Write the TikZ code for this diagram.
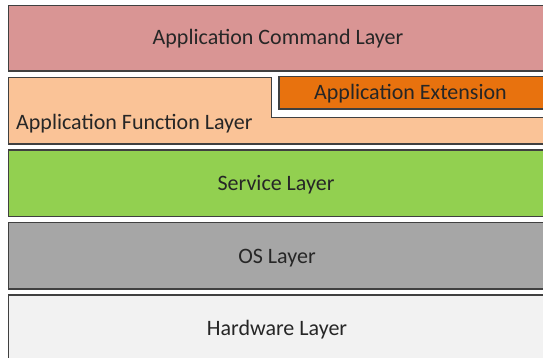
\documentclass[tikz,border=0pt]{standalone}
\usepackage{fontspec}
\setmainfont{Carlito}
\definecolor{cmdfill}{HTML}{D99594}
\definecolor{funfill}{HTML}{FAC397}
\definecolor{extfill}{HTML}{E8720E}
\definecolor{svcfill}{HTML}{92D050}
\definecolor{osfill}{HTML}{A6A6A6}
\definecolor{hwfill}{HTML}{F2F2F2}
\definecolor{edge}{HTML}{404040}
\definecolor{txt}{HTML}{262626}
\begin{document}
\begin{tikzpicture}[x=1pt,y=-1pt,
  layer/.style={draw=edge,line width=1.3pt},
  lbl/.style={text=txt,font=\fontsize{22}{26}\selectfont,inner sep=0pt,anchor=base}]
\useasboundingbox (0,0) rectangle (543,358);
\clip (0,0) rectangle (543,358);
\fill[white] (0,0) rectangle (543,358);
% Command layer
\draw[layer,fill=cmdfill] (8.3,5.7) rectangle (560,71);
\node[lbl] (cmd) at (278,45) {Application Command Layer};
% Function layer
\draw[layer,fill=funfill] (8.3,77.7) -- (271.7,77.7) -- (271.7,117.5) -- (560,117.5) -- (560,144) -- (8.3,144) -- cycle;
\node[lbl,anchor=base west] (fun) at (16,130) {Application Function Layer};
% Extension
\draw[layer,fill=extfill] (279,76.7) rectangle (560,109);
\node[lbl,anchor=base west,text=black!85] (ext) at (314,99.7) {Application Extension};
% Service
\draw[layer,fill=svcfill] (8.3,150) rectangle (560,216.7);
\node[lbl] (svc) at (276,190) {Service Layer};
% OS
\draw[layer,fill=osfill] (8.3,222.7) rectangle (560,289);
\node[lbl] (os) at (277,263.5) {OS Layer};
% Hardware
\draw[layer,fill=hwfill] (8.3,295) rectangle (560,370);
\node[lbl] (hw) at (277,335) {Hardware Layer};
\end{tikzpicture}
\end{document}
